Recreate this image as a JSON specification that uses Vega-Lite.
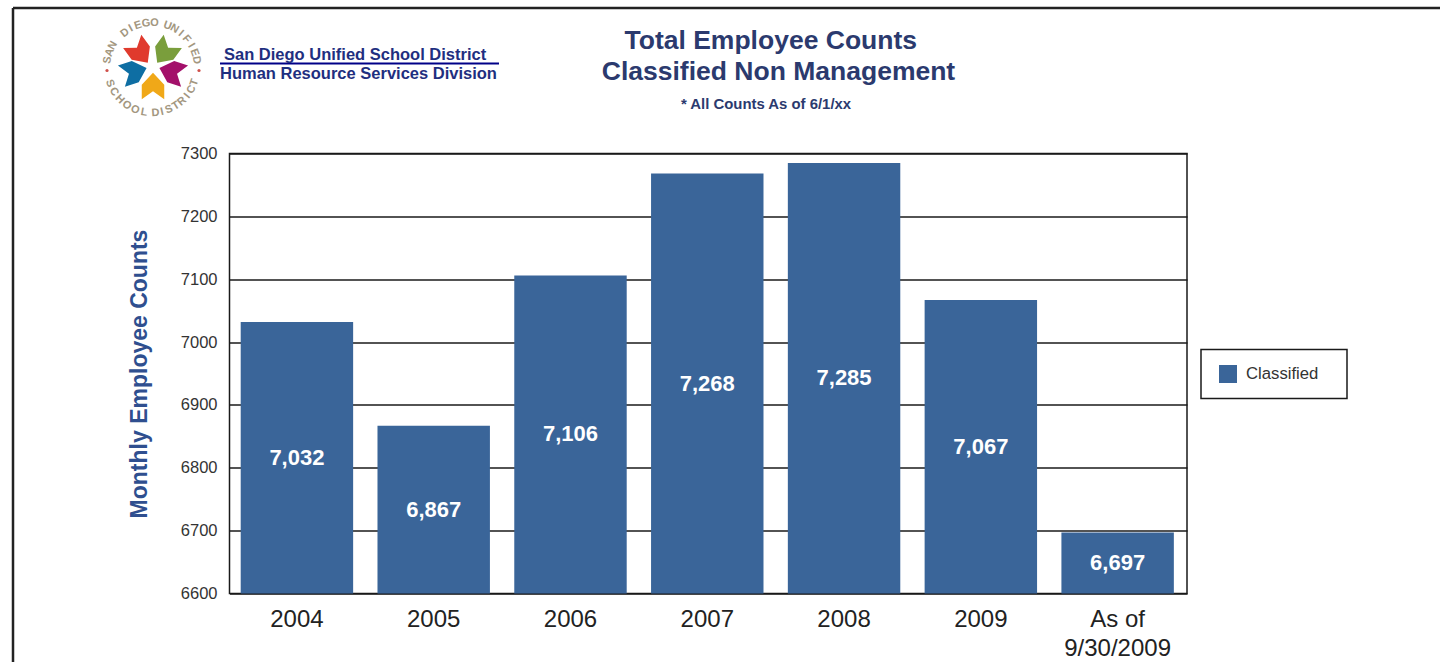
{
  "$schema": "https://vega.github.io/schema/vega-lite/v6.json",
  "width": 957.5,
  "height": 440,
  "autosize": {"type": "none"},
  "padding": {"left": 229.5, "top": 153.5, "right": 253, "bottom": 68.5},
  "background": "white",
  "title": {
    "text": "Total Employee Counts",
    "anchor": "middle",
    "frame": "group",
    "dx": 62.5,
    "offset": -48,
    "font": "Liberation Sans",
    "fontSize": 26.5,
    "fontWeight": "bold",
    "color": "#2b3a6e"
  },
  "config": {
    "view": {"stroke": "#1a1a1a", "strokeWidth": 1.5},
    "font": "Liberation Sans",
    "legend": {"strokeColor": "#1a1a1a", "strokeWidth": 1.5}
  },
  "resolve": {"scale": {"x": "independent", "y": "independent", "color": "independent"}},
  "layer": [
    {
      "data": {
        "values": [
          {"year": "2004", "count": 7032, "group": "Classified"},
          {"year": "2005", "count": 6867, "group": "Classified"},
          {"year": "2006", "count": 7106, "group": "Classified"},
          {"year": "2007", "count": 7268, "group": "Classified"},
          {"year": "2008", "count": 7285, "group": "Classified"},
          {"year": "2009", "count": 7067, "group": "Classified"},
          {"year": "As of\n9/30/2009", "count": 6697, "group": "Classified"}
        ]
      },
      "encoding": {
        "x": {
          "field": "year",
          "type": "nominal",
          "sort": null,
          "title": null,
          "scale": {"paddingInner": 0.178, "paddingOuter": 0.089, "align": 0.46},
          "axis": {
            "labelAngle": 0,
            "labelFontSize": 24,
            "labelColor": "#222222",
            "labelPadding": 14,
            "labelLineHeight": 29,
            "labelBaseline": "top",
            "ticks": false,
            "domain": false,
            "labelExpr": "split(datum.label, '\\n')"
          }
        }
      },
      "layer": [
        {
          "mark": {"type": "bar"},
          "encoding": {
            "y": {
              "field": "count",
              "type": "quantitative",
              "title": "Monthly Employee Counts",
              "scale": {"domain": [6600, 7300], "nice": false, "zero": false},
              "axis": {
                "values": [6600, 6700, 6800, 6900, 7000, 7100, 7200, 7300],
                "format": "d",
                "grid": true,
                "gridColor": "#1a1a1a",
                "gridWidth": 1.5,
                "gridOpacity": 1,
                "ticks": false,
                "domain": false,
                "labelFontSize": 16.5,
                "labelColor": "#333333",
                "labelPadding": 12.5,
                "titleFontSize": 23,
                "titleFontWeight": "bold",
                "titleColor": "#2f4f8f",
                "titlePadding": 29
              }
            },
            "y2": {"datum": 6600},
            "color": {
              "field": "group",
              "type": "nominal",
              "scale": {"domain": ["Classified"], "range": ["#3a6599"]},
              "legend": {
                "orient": "none",
                "legendX": 971.5,
                "legendY": 196,
                "padding": 15.5,
                "title": "\u00a0",
                "titleOrient": "right",
                "titlePadding": 13,
                "titleFontSize": 16.7,
                "symbolType": "square",
                "symbolSize": 324,
                "symbolStrokeWidth": 0,
                "symbolOffset": 2.5,
                "labelFontSize": 16.7,
                "labelColor": "#333333",
                "labelOffset": 9
              }
            }
          }
        },
        {
          "transform": [{"calculate": "(datum.count + 6600) / 2", "as": "label_at"}],
          "mark": {"type": "text", "color": "white", "fontSize": 22, "fontWeight": "bold", "baseline": "middle"},
          "encoding": {
            "y": {"field": "label_at", "type": "quantitative"},
            "text": {"field": "count", "type": "quantitative", "format": ","}
          }
        }
      ]
    },
    {
      "encoding": {
        "x": {"field": "x", "type": "quantitative", "axis": null, "scale": {"domain": [229.5, 1187], "nice": false, "zero": false}},
        "y": {"field": "y", "type": "quantitative", "axis": null, "scale": {"domain": [593.5, 153.5], "nice": false, "zero": false}}
      },
      "layer": [
        {
          "data": {"values": [
            {"x": 13, "x2": 1440, "y": 8, "y2": 8},
            {"x": 13, "x2": 13, "y": 8, "y2": 662}
          ]},
          "mark": {"type": "rule", "color": "#222222", "strokeWidth": 2.5},
          "encoding": {"x2": {"field": "x2"}, "y2": {"field": "y2"}}
        },
        {
          "data": {"values": [{"x": 778.5, "y": 71.5, "line": "Classified Non Management"}]},
          "mark": {"type": "text", "align": "center", "baseline": "middle", "fontSize": 26.5, "fontWeight": "bold", "color": "#2b3a6e"},
          "encoding": {"text": {"field": "line"}}
        },
        {
          "data": {"values": [{"x": 766, "y": 104.5, "line": "* All Counts As of 6/1/xx"}]},
          "mark": {"type": "text", "align": "center", "baseline": "middle", "fontSize": 14.9, "fontWeight": "bold", "color": "#2b3a6e"},
          "encoding": {"text": {"field": "line"}}
        },
        {
          "data": {"values": [{"x": 220, "x2": 499, "y": 63.5}]},
          "mark": {"type": "rule", "color": "#000088", "strokeWidth": 2},
          "encoding": {"x2": {"field": "x2"}}
        },
        {
          "data": {"values": [
            {"x": 224, "y": 55, "line": "San Diego Unified School District"},
            {"x": 220, "y": 73.5, "line": "Human Resource Services Division"}
          ]},
          "mark": {"type": "text", "align": "left", "baseline": "middle", "fontSize": 16.5, "fontWeight": "bold", "color": "#1f2f80"},
          "encoding": {"text": {"field": "line"}}
        },
        {
          "data": {"values": [
            {"x": 140, "y": 52, "petal": "red", "turn": -36},
            {"x": 165, "y": 52, "petal": "green", "turn": 36},
            {"x": 134, "y": 72, "petal": "blue", "turn": -108},
            {"x": 172, "y": 72, "petal": "magenta", "turn": 108},
            {"x": 153, "y": 86, "petal": "orange", "turn": 180}
          ]},
          "mark": {"type": "point", "filled": true, "opacity": 1, "size": 700, "shape": "M0,1 L-0.85,0.1 L-0.85,-1 L0,-0.4 L0.85,-1 L0.85,0.1 Z"},
          "encoding": {
            "angle": {"field": "turn", "type": "quantitative", "scale": null},
            "color": {
              "field": "petal",
              "type": "nominal",
              "legend": null,
              "scale": {
                "domain": ["red", "green", "blue", "magenta", "orange"],
                "range": ["#e03a2d", "#7a9e3c", "#0e6ea3", "#a3106a", "#f0a818"]
              }
            }
          }
        },
        {
          "data": {"values": [
            {"x": 107, "y": 70.5},
            {"x": 199, "y": 70.5}
          ]},
          "mark": {"type": "circle", "size": 10, "color": "#d0504a", "opacity": 1}
        },
        {
          "data": {"values": [
            {"ch": "S", "x": 107.7, "y": 60.2, "turn": -80},
            {"ch": "A", "x": 109.7, "y": 52.6, "turn": -70},
            {"ch": "N", "x": 113.0, "y": 45.5, "turn": -60},
            {"ch": "D", "x": 125.0, "y": 33.0, "turn": -38},
            {"ch": "I", "x": 131.0, "y": 28.5, "turn": -29},
            {"ch": "E", "x": 138.0, "y": 25.5, "turn": -18},
            {"ch": "G", "x": 146.0, "y": 23.5, "turn": -8},
            {"ch": "O", "x": 154.5, "y": 23.0, "turn": 3},
            {"ch": "U", "x": 167.4, "y": 25.7, "turn": 20},
            {"ch": "N", "x": 174.5, "y": 29.0, "turn": 30},
            {"ch": "I", "x": 180.9, "y": 33.5, "turn": 40},
            {"ch": "F", "x": 186.5, "y": 39.1, "turn": 50},
            {"ch": "I", "x": 191.0, "y": 45.5, "turn": 60},
            {"ch": "E", "x": 194.3, "y": 52.6, "turn": 70},
            {"ch": "D", "x": 196.3, "y": 60.2, "turn": 80},
            {"ch": "S", "x": 109.7, "y": 83.4, "turn": 70},
            {"ch": "C", "x": 113.8, "y": 91.8, "turn": 58},
            {"ch": "H", "x": 119.6, "y": 99.3, "turn": 46},
            {"ch": "O", "x": 126.8, "y": 105.3, "turn": 34},
            {"ch": "O", "x": 135.1, "y": 109.7, "turn": 22},
            {"ch": "L", "x": 144.2, "y": 112.3, "turn": 10},
            {"ch": "D", "x": 155.5, "y": 112.9, "turn": -4},
            {"ch": "I", "x": 162.0, "y": 112.0, "turn": -13},
            {"ch": "S", "x": 169.0, "y": 109.5, "turn": -22},
            {"ch": "T", "x": 176.0, "y": 106.0, "turn": -32},
            {"ch": "R", "x": 182.0, "y": 101.5, "turn": -41},
            {"ch": "I", "x": 187.5, "y": 96.0, "turn": -51},
            {"ch": "C", "x": 191.5, "y": 89.5, "turn": -61},
            {"ch": "T", "x": 194.5, "y": 82.5, "turn": -71}
          ]},
          "mark": {"type": "text", "fontSize": 11, "fontWeight": "bold", "color": "#a3977f", "align": "center", "baseline": "middle"},
          "encoding": {
            "text": {"field": "ch"},
            "angle": {"field": "turn", "type": "quantitative", "scale": null}
          }
        }
      ]
    }
  ]
}
